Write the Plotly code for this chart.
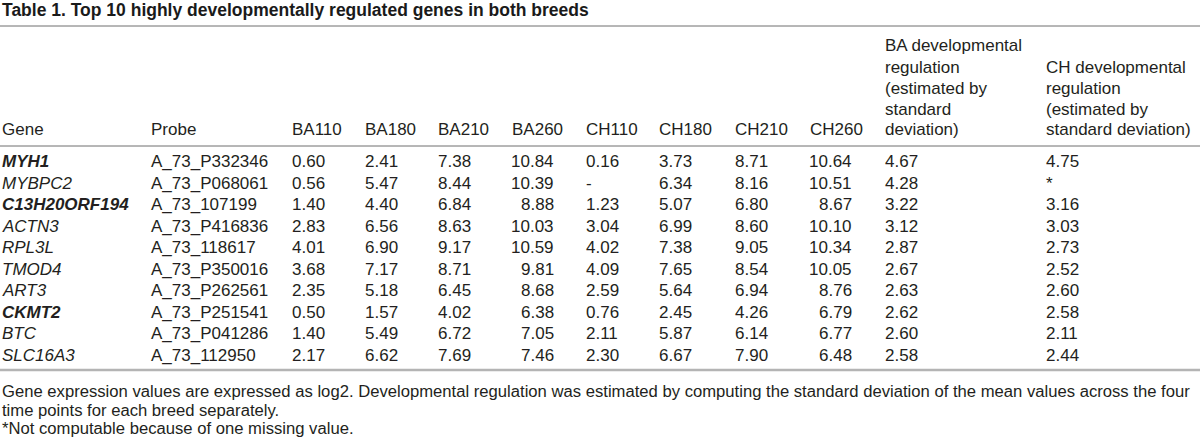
import plotly.graph_objects as go

# ---------------- data ----------------
title_text = "Table 1. Top 10 highly developmentally regulated genes in both breeds"

genes = ["MYH1", "MYBPC2", "C13H20ORF194", "ACTN3", "RPL3L",
         "TMOD4", "ART3", "CKMT2", "BTC", "SLC16A3"]
gene_bold = [True, False, True, False, False, False, False, True, False, False]
probes = ["A_73_P332346", "A_73_P068061", "A_73_107199", "A_73_P416836", "A_73_118617",
          "A_73_P350016", "A_73_P262561", "A_73_P251541", "A_73_P041286", "A_73_112950"]
ba110 = [0.60, 0.56, 1.40, 2.83, 4.01, 3.68, 2.35, 0.50, 1.40, 2.17]
ba180 = [2.41, 5.47, 4.40, 6.56, 6.90, 7.17, 5.18, 1.57, 5.49, 6.62]
ba210 = [7.38, 8.44, 6.84, 8.63, 9.17, 8.71, 6.45, 4.02, 6.72, 7.69]
ba260 = [10.84, 10.39, 8.88, 10.03, 10.59, 9.81, 8.68, 6.38, 7.05, 7.46]
ch110 = [0.16, None, 1.23, 3.04, 4.02, 4.09, 2.59, 0.76, 2.11, 2.30]
ch180 = [3.73, 6.34, 5.07, 6.99, 7.38, 7.65, 5.64, 2.45, 5.87, 6.67]
ch210 = [8.71, 8.16, 6.80, 8.60, 9.05, 8.54, 6.94, 4.26, 6.14, 7.90]
ch260 = [10.64, 10.51, 8.67, 10.10, 10.34, 10.05, 8.76, 6.79, 6.77, 6.48]
ba_sd = [4.67, 4.28, 3.22, 3.12, 2.87, 2.67, 2.63, 2.62, 2.60, 2.58]
ch_sd = [4.75, None, 3.16, 3.03, 2.73, 2.52, 2.60, 2.58, 2.11, 2.44]

headers = [
    ["Gene"], ["Probe"], ["BA110"], ["BA180"], ["BA210"], ["BA260"],
    ["CH110"], ["CH180"], ["CH210"], ["CH260"],
    ["BA developmental", "regulation", "(estimated by", "standard", "deviation)"],
    ["CH developmental", "regulation", "(estimated by", "standard deviation)"],
]
missing_marks = {6: "-", 11: "*"}   # column index -> symbol shown for a missing value

footnotes = [
    "Gene expression values are expressed as log2. Developmental regulation was estimated by computing the standard deviation of the mean values across the four",
    "time points for each breed separately.",
    "*Not computable because of one missing value.",
]

# ---------------- layout / style ----------------
W, H = 1200, 446
FONT = "Liberation Sans, Arial, Helvetica, sans-serif"
TXT = "#231f20"
BODY_SIZE = 17
FOOT_SIZE = 16.65
TITLE_SIZE = 17.5

col_left_px = [2, 151, 292, 365, 438, 512, 586, 659, 735, 810, 885, 1046]
right_aligned = {5: 554, 9: 852}     # columns whose numbers are right aligned (right edge px)

TITLE_Y = 10
TITLE_RULE = 26
HEADER_LAST = 130
HEADER_PITCH = 21
HEADER_RULE = 146
ROW0 = 161.5
ROW_PITCH = 21.5
BOTTOM_RULE = 370
FOOT_Y = [391, 410, 428]


def py(p):
    return 1 - p / H


def px(p):
    return p / W


numeric_cols = [ba110, ba180, ba210, ba260, ch110, ch180, ch210, ch260, ba_sd, ch_sd]

fig = go.Figure()
# invisible anchor trace so the row axis exists
fig.add_trace(go.Scatter(x=[0], y=[0], mode="markers", marker=dict(opacity=0),
                         hoverinfo="skip", showlegend=False))

ann = []
base = dict(showarrow=False, borderpad=0, borderwidth=0, xanchor="left", yanchor="middle",
            font=dict(family=FONT, size=BODY_SIZE, color=TXT))

# title
ann.append(dict(base, text="<b>" + title_text + "</b>", xref="paper", yref="paper",
                x=px(2), y=py(TITLE_Y), font=dict(family=FONT, size=TITLE_SIZE, color="#1a1a1a")))

# headers (bottom aligned)
for j, lines in enumerate(headers):
    n = len(lines)
    for k, line in enumerate(lines):
        ypos = HEADER_LAST - (n - 1 - k) * HEADER_PITCH
        ann.append(dict(base, text=line, xref="paper", yref="paper",
                        x=px(col_left_px[j]), y=py(ypos)))

# body rows (y = row index on the row axis)
for i in range(len(genes)):
    g = "<i>" + genes[i] + "</i>"
    if gene_bold[i]:
        g = "<b>" + g + "</b>"
    ann.append(dict(base, text=g, xref="paper", yref="y", x=px(col_left_px[0]), y=i))
    ann.append(dict(base, text=probes[i], xref="paper", yref="y", x=px(col_left_px[1]), y=i))
    for c, col in enumerate(numeric_cols):
        j = c + 2
        v = col[i]
        if v is None:
            t = missing_marks.get(j, "-")
        else:
            t = f"{v:.2f}"
        if j in right_aligned and v is not None:
            ann.append(dict(base, text=t, xref="paper", yref="y", x=px(right_aligned[j]),
                            y=i, xanchor="right"))
        else:
            ann.append(dict(base, text=t, xref="paper", yref="y", x=px(col_left_px[j]), y=i))

# footnotes
for k, t in enumerate(footnotes):
    ann.append(dict(base, text=t, xref="paper", yref="paper", x=px(2), y=py(FOOT_Y[k]),
                    font=dict(family=FONT, size=FOOT_SIZE, color=TXT)))

shapes = [
    dict(type="line", xref="paper", yref="paper", x0=0, x1=1, y0=py(TITLE_RULE), y1=py(TITLE_RULE),
         line=dict(color="#6e6e6e", width=1)),
    dict(type="line", xref="paper", yref="paper", x0=0, x1=1, y0=py(HEADER_RULE), y1=py(HEADER_RULE),
         line=dict(color="#6e6e6e", width=1)),
    dict(type="line", xref="paper", yref="paper", x0=0, x1=1, y0=py(BOTTOM_RULE), y1=py(BOTTOM_RULE),
         line=dict(color="#b4b4b4", width=2.5)),
]

y_top = -ROW0 / ROW_PITCH
y_bot = y_top + H / ROW_PITCH

fig.update_layout(
    width=W, height=H,
    margin=dict(l=0, r=0, t=0, b=0),
    paper_bgcolor="white", plot_bgcolor="white",
    xaxis=dict(visible=False, range=[0, 1], fixedrange=True),
    yaxis=dict(visible=False, range=[y_bot, y_top], fixedrange=True),
    annotations=ann, shapes=shapes, showlegend=False,
)

fig.write_html("out.html", config={"displayModeBar": False},
               post_script="document.body.style.margin='0';document.body.style.padding='0';"
                           "document.body.style.overflow='hidden';")
